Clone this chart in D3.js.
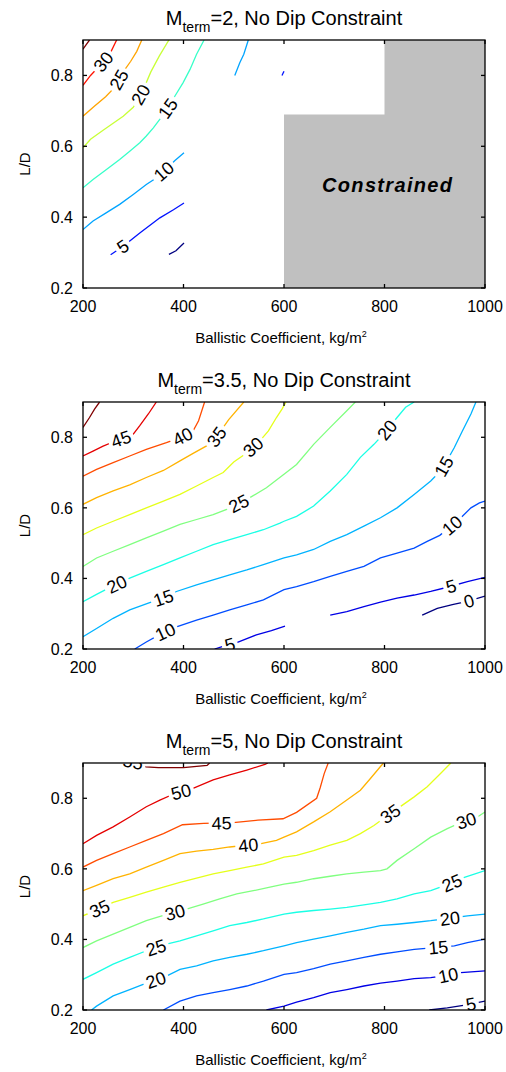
<!DOCTYPE html>
<html><head><meta charset="utf-8">
<script src="https://cdn.jsdelivr.net/npm/d3@7"></script>
<style>body{margin:0;background:#fff} text{font-family:Arial,"Liberation Sans",sans-serif;fill:#000}</style>
</head><body><svg id="c" width="506" height="1072"></svg>
<script>
// ---------- data ----------
const xTicks = [200, 400, 600, 800, 1000];
const yTicks = [0.2, 0.4, 0.6, 0.8];
const xDomain = [200, 1000];
const yDomain = [0.2, 0.9];
const machTerm = ["2", "3.5", "5"];
const levelRanges = [[0, 35], [0, 50], [5, 55]];
const xAxisTitle = "Ballistic Coefficient, kg/m";
const yAxisTitle = "L/D";
const constrainedRegion = [[600,0.2],[600,0.69],[800,0.69],[800,0.9],[1000,0.9],[1000,0.2]];
const constrainedLabel = {text: "Constrained", x: 805, y: 0.49};

const panel1Lines = [
  {level:35, pts:[[200,0.874],[206,0.886],[213,0.9]]},
  {level:30, pts:[[200,0.772],[215,0.80],[235,0.83],[255,0.865],[267,0.9]]},
  {level:25, pts:[[200,0.685],[222,0.712],[245,0.74],[262,0.765],[280,0.81],[295,0.84],[307,0.868],[317,0.9]]},
  {level:20, pts:[[200,0.596],[215,0.62],[240,0.645],[260,0.665],[280,0.685],[300,0.71],[320,0.76],[335,0.81],[352,0.855],[371,0.9]]},
  {level:15, pts:[[200,0.483],[220,0.506],[246,0.534],[273,0.563],[293,0.586],[313,0.61],[326,0.629],[340,0.652],[355,0.68],[370,0.71],[383,0.742],[399,0.779],[413,0.817],[426,0.86],[441,0.9]]},
  {level:10, pts:[[200,0.365],[220,0.389],[246,0.412],[273,0.436],[300,0.464],[326,0.492],[345,0.51],[365,0.535],[383,0.56],[401,0.582]]},
  {level:10, pts:[[502,0.8],[512,0.836],[520,0.86],[529,0.9]]},
  {level:5,  pts:[[255,0.294],[280,0.318],[313,0.355],[353,0.398],[380,0.421],[401,0.44]]},
  {level:5,  pts:[[596,0.8],[600,0.812]]},
  {level:0,  pts:[[371,0.295],[385,0.305],[401,0.327]]}
];
const panel1Labels = [
  {level:30, x:242, y:0.837}, {level:25, x:270, y:0.789}, {level:20, x:316, y:0.745},
  {level:15, x:371, y:0.705}, {level:10, x:360, y:0.53}, {level:5, x:280, y:0.316}
];

const panel2Lines = [
  {level:50, pts:[[200,0.828],[213,0.856],[223,0.88],[233,0.9]]},
  {level:45, pts:[[200,0.747],[220,0.761],[240,0.775],[262,0.788],[285,0.80],[300,0.809],[313,0.833],[330,0.866],[346,0.9]]},
  {level:40, pts:[[200,0.69],[227,0.709],[260,0.728],[293,0.747],[326,0.766],[366,0.785],[395,0.80],[419,0.818],[430,0.847],[442,0.9]]},
  {level:35, pts:[[200,0.61],[227,0.629],[260,0.648],[293,0.665],[326,0.686],[360,0.706],[393,0.733],[420,0.755],[445,0.775],[465,0.80],[490,0.85],[520,0.9]]},
  {level:30, pts:[[200,0.524],[227,0.543],[260,0.562],[293,0.581],[326,0.60],[360,0.619],[393,0.638],[426,0.662],[459,0.686],[479,0.70],[500,0.73],[525,0.755],[552,0.79],[569,0.818],[585,0.856],[596,0.88],[604,0.9]]},
  {level:25, pts:[[200,0.434],[227,0.458],[260,0.477],[293,0.496],[326,0.515],[360,0.534],[393,0.553],[426,0.567],[459,0.581],[490,0.598],[532,0.629],[565,0.657],[600,0.695],[625,0.723],[659,0.78],[692,0.828],[725,0.875],[742,0.9]]},
  {level:20, pts:[[200,0.334],[227,0.355],[250,0.372],[293,0.401],[326,0.42],[360,0.439],[393,0.458],[426,0.477],[459,0.496],[492,0.51],[526,0.524],[559,0.538],[592,0.557],[600,0.562],[625,0.576],[659,0.605],[692,0.648],[725,0.695],[752,0.743],[779,0.78],[800,0.812],[825,0.856],[842,0.885],[859,0.9]]},
  {level:15, pts:[[200,0.235],[227,0.258],[260,0.287],[293,0.311],[330,0.33],[360,0.345],[386,0.363],[426,0.382],[459,0.396],[492,0.41],[526,0.424],[559,0.439],[600,0.458],[625,0.467],[659,0.482],[692,0.505],[725,0.524],[759,0.548],[792,0.572],[825,0.60],[859,0.638],[892,0.676],[915,0.71],[939,0.771],[955,0.818],[972,0.866],[982,0.9]]},
  {level:10, pts:[[303,0.2],[326,0.22],[355,0.243],[386,0.263],[426,0.282],[459,0.296],[492,0.311],[526,0.325],[559,0.339],[600,0.368],[625,0.377],[659,0.391],[692,0.406],[725,0.42],[759,0.434],[792,0.458],[825,0.472],[859,0.486],[885,0.505],[910,0.522],[930,0.545],[952,0.572],[972,0.6],[989,0.614],[1000,0.619]]},
  {level:5,  pts:[[462,0.2],[480,0.208],[506,0.218],[545,0.24],[575,0.252],[602,0.265]]},
  {level:5,  pts:[[692,0.296],[725,0.306],[759,0.32],[792,0.333],[825,0.344],[859,0.353],[892,0.363],[925,0.375],[965,0.391],[1000,0.403]]},
  {level:0,  pts:[[875,0.296],[905,0.315],[935,0.326],[965,0.335],[1000,0.35]]}
];
const panel2Labels = [
  {level:45, x:277, y:0.79}, {level:40, x:399, y:0.80}, {level:35, x:467, y:0.80},
  {level:30, x:540, y:0.77}, {level:25, x:510, y:0.612}, {level:20, x:271, y:0.372},
  {level:20, x:806, y:0.82}, {level:15, x:360, y:0.345}, {level:15, x:921, y:0.715},
  {level:10, x:364, y:0.248}, {level:10, x:935, y:0.55}, {level:5, x:492, y:0.213},
  {level:5, x:933, y:0.376}, {level:0, x:968, y:0.335}
];

const panel3Lines = [
  {level:55, pts:[[290,0.906],[305,0.902],[325,0.889],[350,0.887],[400,0.887],[447,0.893],[452,0.9]]},
  {level:50, pts:[[200,0.671],[227,0.695],[260,0.719],[293,0.747],[326,0.776],[353,0.795],[385,0.815],[419,0.828],[459,0.852],[492,0.866],[526,0.88],[562,0.896],[568,0.9]]},
  {level:45, pts:[[200,0.605],[227,0.624],[260,0.643],[293,0.662],[326,0.681],[360,0.70],[398,0.725],[440,0.729],[499,0.731],[548,0.738],[598,0.742],[625,0.76],[665,0.80],[672,0.83],[680,0.87],[688,0.9]]},
  {level:40, pts:[[200,0.538],[227,0.553],[260,0.572],[293,0.586],[326,0.605],[360,0.624],[393,0.643],[426,0.65],[459,0.655],[492,0.662],[552,0.671],[585,0.681],[600,0.69],[625,0.705],[659,0.733],[692,0.762],[725,0.795],[752,0.823],[772,0.856],[792,0.89],[798,0.9]]},
  {level:35, pts:[[200,0.467],[230,0.485],[260,0.505],[293,0.519],[326,0.534],[360,0.548],[393,0.562],[426,0.574],[459,0.586],[492,0.595],[526,0.605],[559,0.614],[600,0.633],[625,0.638],[659,0.652],[692,0.667],[725,0.681],[752,0.70],[779,0.723],[800,0.745],[835,0.78],[859,0.804],[885,0.833],[912,0.871],[932,0.9]]},
  {level:30, pts:[[200,0.377],[227,0.396],[260,0.415],[293,0.434],[326,0.453],[365,0.47],[406,0.486],[439,0.50],[472,0.515],[506,0.529],[539,0.538],[572,0.548],[600,0.557],[625,0.562],[659,0.572],[692,0.579],[725,0.586],[759,0.591],[792,0.595],[805,0.60],[825,0.624],[859,0.657],[892,0.69],[925,0.714],[955,0.733],[985,0.747],[1000,0.761]]},
  {level:25, pts:[[200,0.287],[227,0.306],[260,0.33],[293,0.349],[330,0.37],[366,0.387],[393,0.396],[426,0.41],[459,0.424],[492,0.439],[526,0.448],[559,0.458],[600,0.472],[625,0.477],[659,0.482],[692,0.486],[725,0.491],[759,0.498],[792,0.505],[825,0.515],[859,0.529],[892,0.538],[925,0.555],[959,0.576],[1000,0.595]]},
  {level:20, pts:[[217,0.2],[227,0.211],[260,0.24],[293,0.258],[330,0.278],[366,0.296],[393,0.315],[426,0.325],[459,0.339],[492,0.349],[526,0.358],[559,0.368],[600,0.382],[625,0.391],[659,0.401],[692,0.41],[725,0.42],[759,0.429],[792,0.439],[825,0.443],[859,0.448],[892,0.453],[930,0.46],[965,0.467],[1000,0.472]]},
  {level:15, pts:[[360,0.2],[393,0.225],[426,0.24],[459,0.249],[492,0.258],[526,0.268],[559,0.282],[600,0.301],[625,0.306],[659,0.317],[692,0.33],[725,0.339],[759,0.349],[792,0.358],[825,0.365],[859,0.372],[900,0.377],[939,0.382],[965,0.391],[1000,0.401]]},
  {level:10, pts:[[565,0.2],[600,0.211],[625,0.222],[659,0.235],[692,0.249],[725,0.258],[759,0.268],[792,0.276],[825,0.282],[859,0.289],[892,0.292],[925,0.298],[952,0.306],[1000,0.311]]},
  {level:5,  pts:[[889,0.2],[925,0.206],[960,0.214],[1000,0.225]]}
];
const panel3Labels = [
  {level:55, x:300, y:0.905}, {level:50, x:396, y:0.814}, {level:45, x:476, y:0.73},
  {level:40, x:529, y:0.665}, {level:35, x:234, y:0.484}, {level:35, x:812, y:0.755},
  {level:30, x:383, y:0.478}, {level:30, x:963, y:0.735}, {level:25, x:345, y:0.378},
  {level:25, x:935, y:0.557}, {level:20, x:345, y:0.285}, {level:20, x:930, y:0.46},
  {level:15, x:907, y:0.378}, {level:10, x:927, y:0.298}, {level:5, x:972, y:0.217}
];

// ---------- drawing ----------
const W = 506, H = 1072, L = 83, R = 485;
const tops = [40, 402, 763], bottoms = [288, 649, 1010];
const panels = [
  {lines: panel1Lines, labels: panel1Labels, region: constrainedRegion, regionLabel: constrainedLabel},
  {lines: panel2Lines, labels: panel2Labels},
  {lines: panel3Lines, labels: panel3Labels}
];
const svg = d3.select("#c");
const defs = svg.append("defs");
const x = d3.scaleLinear().domain(xDomain).range([L, R]);
function jet(t) {
  const c = v => Math.max(0, Math.min(1, v));
  return d3.rgb(255 * c(1.5 - Math.abs(4 * t - 3)), 255 * c(1.5 - Math.abs(4 * t - 2)), 255 * c(1.5 - Math.abs(4 * t - 1))).formatHex();
}

panels.forEach((p, i) => {
  const top = tops[i], bot = bottoms[i];
  const y = d3.scaleLinear().domain(yDomain).range([bot, top]);
  const [lo, hi] = levelRanges[i];
  const line = d3.line().x(d => x(d[0])).y(d => y(d[1]));
  const g = svg.append("g");

  defs.append("clipPath").attr("id", "clip" + i).append("rect")
    .attr("x", L).attr("y", top).attr("width", R - L).attr("height", bot - top);
  const mask = defs.append("mask").attr("id", "mask" + i).attr("maskUnits", "userSpaceOnUse")
    .attr("x", 0).attr("y", 0).attr("width", W).attr("height", H);
  mask.append("rect").attr("x", 0).attr("y", 0).attr("width", W).attr("height", H).attr("fill", "white");

  if (p.region) {
    g.append("path").attr("d", line(p.region) + "Z").attr("fill", "#c0c0c0");
    g.append("text").attr("x", x(p.regionLabel.x)).attr("y", y(p.regionLabel.y)).attr("dy", "0.35em")
      .attr("text-anchor", "middle").style("font-size", "20px").style("font-weight", "bold")
      .style("font-style", "italic").attr("textLength", 130).attr("lengthAdjust", "spacing")
      .text(p.regionLabel.text);
  }
  const plot = g.append("g").attr("clip-path", `url(#clip${i})`);
  const lg = plot.append("g").attr("mask", `url(#mask${i})`);
  lg.selectAll("path").data(p.lines).join("path")
    .attr("d", d => line(d.pts)).attr("fill", "none")
    .attr("stroke", d => jet((d.level - lo) / (hi - lo))).attr("stroke-width", 1.3);

  p.labels.forEach(lb => {
    const px = x(lb.x), py = y(lb.y);
    let best = null;
    p.lines.filter(l => l.level === lb.level).forEach(l => {
      for (let k = 0; k < l.pts.length - 1; k++) {
        const ax = x(l.pts[k][0]), ay = y(l.pts[k][1]), bx = x(l.pts[k + 1][0]), by = y(l.pts[k + 1][1]);
        const dx = bx - ax, dy = by - ay, len2 = dx * dx + dy * dy || 1;
        let t = ((px - ax) * dx + (py - ay) * dy) / len2; t = Math.max(0, Math.min(1, t));
        const qx = ax + t * dx, qy = ay + t * dy, dd = (qx - px) ** 2 + (qy - py) ** 2;
        if (!best || dd < best.dd) best = {dd, qx, qy, ang: Math.atan2(dy, dx) * 180 / Math.PI};
      }
    });
    let ang = best.ang; if (ang > 90) ang -= 180; if (ang < -90) ang += 180;
    const tr = `translate(${best.qx},${best.qy}) rotate(${ang})`;
    const t = plot.append("text").attr("transform", tr).attr("text-anchor", "middle").attr("dy", "0.36em")
      .style("font-size", "18px").text(lb.level);
    const w = t.node().getComputedTextLength();
    mask.append("rect").attr("transform", tr).attr("x", -w / 2 - 3).attr("y", -8).attr("width", w + 6).attr("height", 16).attr("fill", "black");
  });

  // frame & ticks
  g.append("rect").attr("x", L).attr("y", top).attr("width", R - L).attr("height", bot - top)
    .attr("fill", "none").attr("stroke", "#000").attr("stroke-width", 1.3);
  xTicks.forEach(v => {
    g.append("line").attr("x1", x(v)).attr("x2", x(v)).attr("y1", bot).attr("y2", bot - 4).attr("stroke", "#000").attr("stroke-width", 1.3);
    g.append("line").attr("x1", x(v)).attr("x2", x(v)).attr("y1", top).attr("y2", top + 4).attr("stroke", "#000").attr("stroke-width", 1.3);
    g.append("text").attr("x", x(v)).attr("y", bot + 24).attr("text-anchor", "middle").style("font-size", "16px").text(v);
  });
  yTicks.forEach(v => {
    g.append("line").attr("x1", L).attr("x2", L + 4).attr("y1", y(v)).attr("y2", y(v)).attr("stroke", "#000").attr("stroke-width", 1.3);
    g.append("line").attr("x1", R).attr("x2", R - 4).attr("y1", y(v)).attr("y2", y(v)).attr("stroke", "#000").attr("stroke-width", 1.3);
    g.append("text").attr("x", L - 10).attr("y", y(v)).attr("dy", "0.36em").attr("text-anchor", "end").style("font-size", "16px").text(d3.format(".1f")(v));
  });

  // title
  const tt = g.append("text").attr("x", (L + R) / 2).attr("y", top - 15).attr("text-anchor", "middle").style("font-size", "20px");
  tt.append("tspan").text("M");
  tt.append("tspan").attr("dy", 7).style("font-size", "14px").text("term");
  tt.append("tspan").attr("dy", -7).text("=" + machTerm[i] + ", No Dip Constraint");

  // axis titles
  const xt = g.append("text").attr("x", (L + R) / 2 - 3).attr("y", bot + 55).attr("text-anchor", "middle").style("font-size", "15px");
  xt.append("tspan").text(xAxisTitle);
  xt.append("tspan").attr("dy", -6).style("font-size", "9px").text("2");
  g.append("text").attr("transform", `translate(30,${(top + bot) / 2}) rotate(-90)`).attr("text-anchor", "middle")
    .style("font-size", "15px").text(yAxisTitle);
});
</script></body></html>
